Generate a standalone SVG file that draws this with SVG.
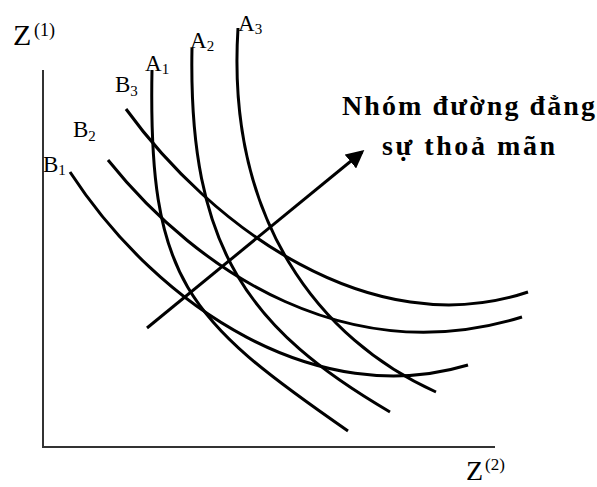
<svg xmlns="http://www.w3.org/2000/svg" width="597" height="487" viewBox="0 0 597 487">
<style>
.ax{stroke:#333;stroke-width:2;fill:none}
.cv{stroke:#000;stroke-width:3;fill:none;stroke-linecap:butt}
.lb{font-family:"Liberation Serif","Times New Roman",serif;fill:#000}
.big{font-family:"Liberation Serif","Times New Roman",serif;font-weight:bold;font-size:28px;fill:#000}
</style>
<defs>
<marker id="ah" markerWidth="6" markerHeight="6" refX="5" refY="3" orient="auto" markerUnits="strokeWidth">
<path d="M0,0 L6,3 L0,6 Z" fill="#000"/>
</marker>
</defs>
<rect width="597" height="487" fill="#fff"/>
<g id="axes">
<path class="ax" d="M43,70 L43,447 L495,447"/>
<text class="lb" x="13" y="45" font-size="30">Z</text>
<text class="lb" x="34" y="36" font-size="18">(1)</text>
<text class="lb" x="466" y="480" font-size="28">Z</text>
<text class="lb" x="485" y="470" font-size="17">(2)</text>
</g>
<g id="connectors">
<path id="A1" class="cv" d="M152,70 C148,280 186,319 348,431"/>
<path id="A2" class="cv" d="M192,48 C188,250 250,330 390,412"/>
<path id="A3" class="cv" d="M238,28 C226,220 320,340 436,392"/>
<path id="B1" class="cv" d="M70,172 C160,310 318,410 468,365"/>
<path id="B2" class="cv" d="M108,160 C200,275 350,370 522,317"/>
<path id="B3" class="cv" d="M126,109 C210,225 370,345 528,292"/>
<path id="arrow" class="cv" d="M147,328 L362,152" marker-end="url(#ah)"/>
</g>
<g id="labels">
<text class="lb" x="145" y="71" font-size="23">A<tspan font-size="15" dy="3">1</tspan></text>
<text class="lb" x="190" y="48" font-size="23">A<tspan font-size="15" dy="3">2</tspan></text>
<text class="lb" x="238" y="31" font-size="23">A<tspan font-size="15" dy="3">3</tspan></text>
<text class="lb" x="115" y="92" font-size="23">B<tspan font-size="15" dy="4">3</tspan></text>
<text class="lb" x="73" y="137" font-size="23">B<tspan font-size="15" dy="4">2</tspan></text>
<text class="lb" x="43" y="172" font-size="23">B<tspan font-size="15" dy="3">1</tspan></text>
</g>
<g id="note">
<text class="big" x="342" y="115" textLength="253" lengthAdjust="spacing">Nhóm đường đẳng</text>
<text class="big" x="382" y="155" textLength="173" lengthAdjust="spacing">sự thoả mãn</text>
</g>
</svg>
